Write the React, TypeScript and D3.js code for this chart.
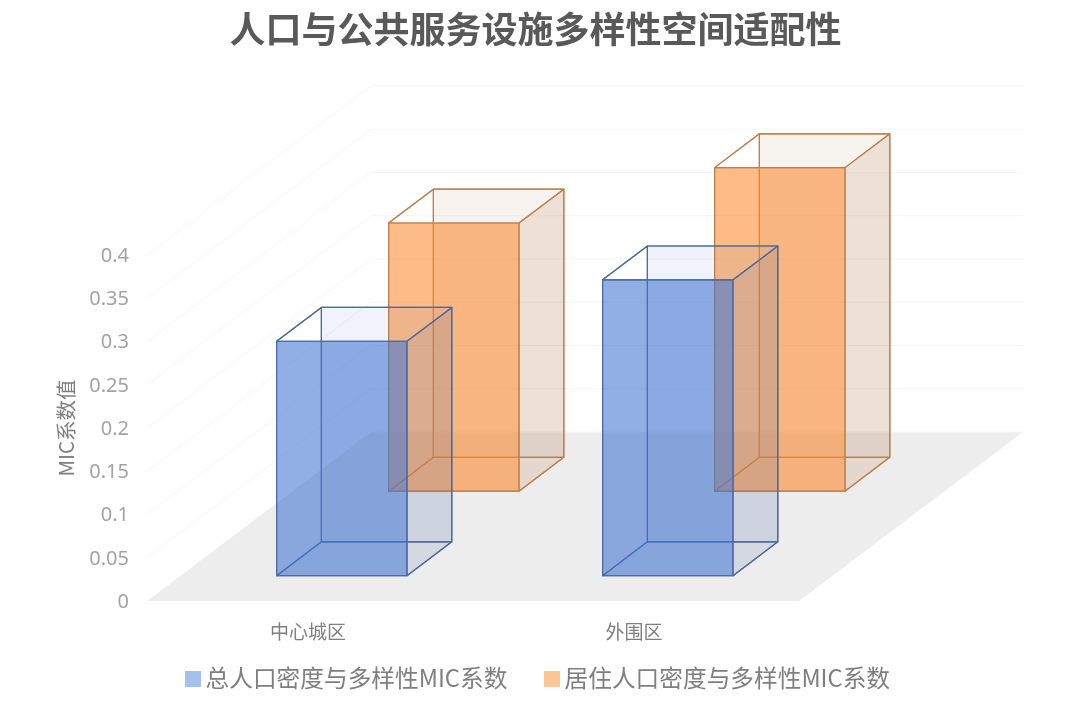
import React, { useEffect, useRef } from 'react';
import * as d3 from 'd3';

const categories = ['中心城区', '外围区'];
const seriesNames = ['总人口密度与多样性MIC系数', '居住人口密度与多样性MIC系数'];
const totalDensity = [0.271, 0.342];
const residentDensity = [0.31, 0.374];
const seriesValues = [totalDensity, residentDensity];
const yTicks = [0, 0.05, 0.1, 0.15, 0.2, 0.25, 0.3, 0.35, 0.4];
const seriesColors = [
  { face: '#4175d2', line: '#4f6a9e', swatch: '#a3c0ee', side: '#4f6a9e', back: '#5a7fc0' },
  { face: '#fb8a30', line: '#bd8150', swatch: '#fbc596', side: '#a8622c', back: '#a87a50' },
];

const width = 1080;
const height = 704;
const cjk = '"Noto Sans CJK SC", "Noto Sans", sans-serif';

const App: React.FC = () => {
  const svgRef = useRef<SVGSVGElement | null>(null);

  useEffect(() => {
    if (!svgRef.current) return;

    const svg = d3.select(svgRef.current);
    svg.selectAll('*').remove();

    // floor corner is at (147, 601), depth runs up and to the right
    const origin = { x: 147, y: 601 };
    const depthVec = { x: 224, y: -169 };

    const x = d3.scaleBand().domain(categories).range([-1.8, 650.2]).paddingInner(0.6).paddingOuter(0.3);
    const xOuter = d3.scaleBand().domain(categories).range([0, 652]);
    const z = d3.scaleBand().domain(seriesNames).range([0, 1]).paddingInner(0.6).paddingOuter(0.3);
    const y = d3.scaleLinear().domain([0, 0.4]).range([0, 346]);

    // x along the floor, z 0..1 into the chart, v is the value
    const project = (px: number, pz: number, v: number): [number, number] => [
      origin.x + px + pz * depthVec.x,
      origin.y + pz * depthVec.y - y(v),
    ];
    const poly = (pts: [number, number][]) => pts.map((p) => p.join(',')).join(' ');

    svg
      .append('polygon')
      .attr('points', poly([project(0, 0, 0), project(652, 0, 0), project(652, 1, 0), project(0, 1, 0)]))
      .attr('fill', '#ededed');

    const grid = svg.append('g').attr('fill', 'none').attr('stroke-width', 1.2);
    yTicks.forEach((t) => {
      if (t > 0) {
        grid
          .append('path')
          .attr('stroke', '#f8f8f8')
          .attr('d', d3.line()([project(0, 0, t), project(0, 1, t)]) as string);
      }
      grid
        .append('path')
        .attr('stroke', '#f5f5f5')
        .attr('d', d3.line()([project(0, 1, t), project(652, 1, t)]) as string);
    });

    // y axis sits on the front plane
    const yAxisScale = d3.scaleLinear().domain([0, 0.4]).range([origin.y, origin.y - 346]);
    const yAxis = svg
      .append('g')
      .attr('transform', `translate(${origin.x},0)`)
      .call(
        d3
          .axisLeft(yAxisScale)
          .tickValues(yTicks)
          .tickSize(0)
          .tickPadding(18)
          .tickFormat((d) => String(d))
      );
    yAxis.select('.domain').remove();
    yAxis
      .selectAll('text')
      .attr('fill', '#a3a3a3')
      .attr('font-size', 20)
      .attr('font-family', '"Noto Sans", sans-serif');

    svg
      .append('text')
      .attr('transform', 'translate(74,428) rotate(-90)')
      .attr('text-anchor', 'middle')
      .attr('font-family', cjk)
      .attr('font-size', 20.5)
      .attr('fill', '#7f7f7f')
      .text('MIC系数值');

    // back series first so the front one overlaps it
    for (let s = seriesNames.length - 1; s >= 0; s--) {
      const zFront = z(seriesNames[s]) as number;
      const zBack = zFront + z.bandwidth();
      const color = seriesColors[s];
      categories.forEach((c, i) => {
        const x0 = x(c) as number;
        const x1 = x0 + x.bandwidth();
        const v = seriesValues[s][i];
        const g = svg.append('g').attr('stroke', color.line).attr('stroke-width', 1.2);
        const face = (pts: [number, number][], opacity: number, fill = color.face) =>
          g
            .append('polygon')
            .attr('points', poly(pts))
            .attr('fill', fill)
            .attr('fill-opacity', opacity)
            .attr('stroke-linejoin', 'round');

        face([project(x0, zBack, 0), project(x1, zBack, 0), project(x1, zBack, v), project(x0, zBack, v)], 0.09, color.back);
        face([project(x0, zFront, 0), project(x0, zBack, 0), project(x0, zBack, v), project(x0, zFront, v)], 0);
        face([project(x0, zFront, 0), project(x1, zFront, 0), project(x1, zBack, 0), project(x0, zBack, 0)], 0.04);
        face([project(x1, zFront, 0), project(x1, zBack, 0), project(x1, zBack, v), project(x1, zFront, v)], 0.12, color.side);
        face([project(x0, zFront, v), project(x1, zFront, v), project(x1, zBack, v), project(x0, zBack, v)], 0);
        face([project(x0, zFront, 0), project(x1, zFront, 0), project(x1, zFront, v), project(x0, zFront, v)], 0.58);
      });
    }

    svg
      .append('g')
      .selectAll('text')
      .data(categories)
      .enter()
      .append('text')
      .attr('x', (d) => origin.x + (xOuter(d) as number) + xOuter.bandwidth() / 2 - 2)
      .attr('y', 639)
      .attr('text-anchor', 'middle')
      .attr('font-family', cjk)
      .attr('font-size', 19)
      .attr('fill', '#7f7f7f')
      .text((d) => d);

    const legendX = [185, 544];
    const legend = svg
      .append('g')
      .selectAll('g')
      .data(seriesNames)
      .enter()
      .append('g')
      .attr('transform', (_, i) => `translate(${legendX[i]},671)`);
    legend
      .append('rect')
      .attr('width', 16)
      .attr('height', 16)
      .attr('fill', (_, i) => seriesColors[i].swatch);
    legend
      .append('text')
      .attr('x', 20.5)
      .attr('y', 16)
      .attr('font-family', cjk)
      .attr('font-size', 23.7)
      .attr('fill', '#7f7f7f')
      .text((d) => d);

    svg
      .append('text')
      .attr('x', 535.5)
      .attr('y', 43)
      .attr('text-anchor', 'middle')
      .attr('font-family', cjk)
      .attr('font-weight', 700)
      .attr('font-size', 36)
      .attr('fill', '#595959')
      .text('人口与公共服务设施多样性空间适配性');
  }, []);

  return (
    <svg
      ref={svgRef}
      width={width}
      height={height}
      style={{ position: 'absolute', left: 0, top: 0, display: 'block', background: '#fff', filter: 'blur(0.4px)' }}
    ></svg>
  );
};

export default App;
